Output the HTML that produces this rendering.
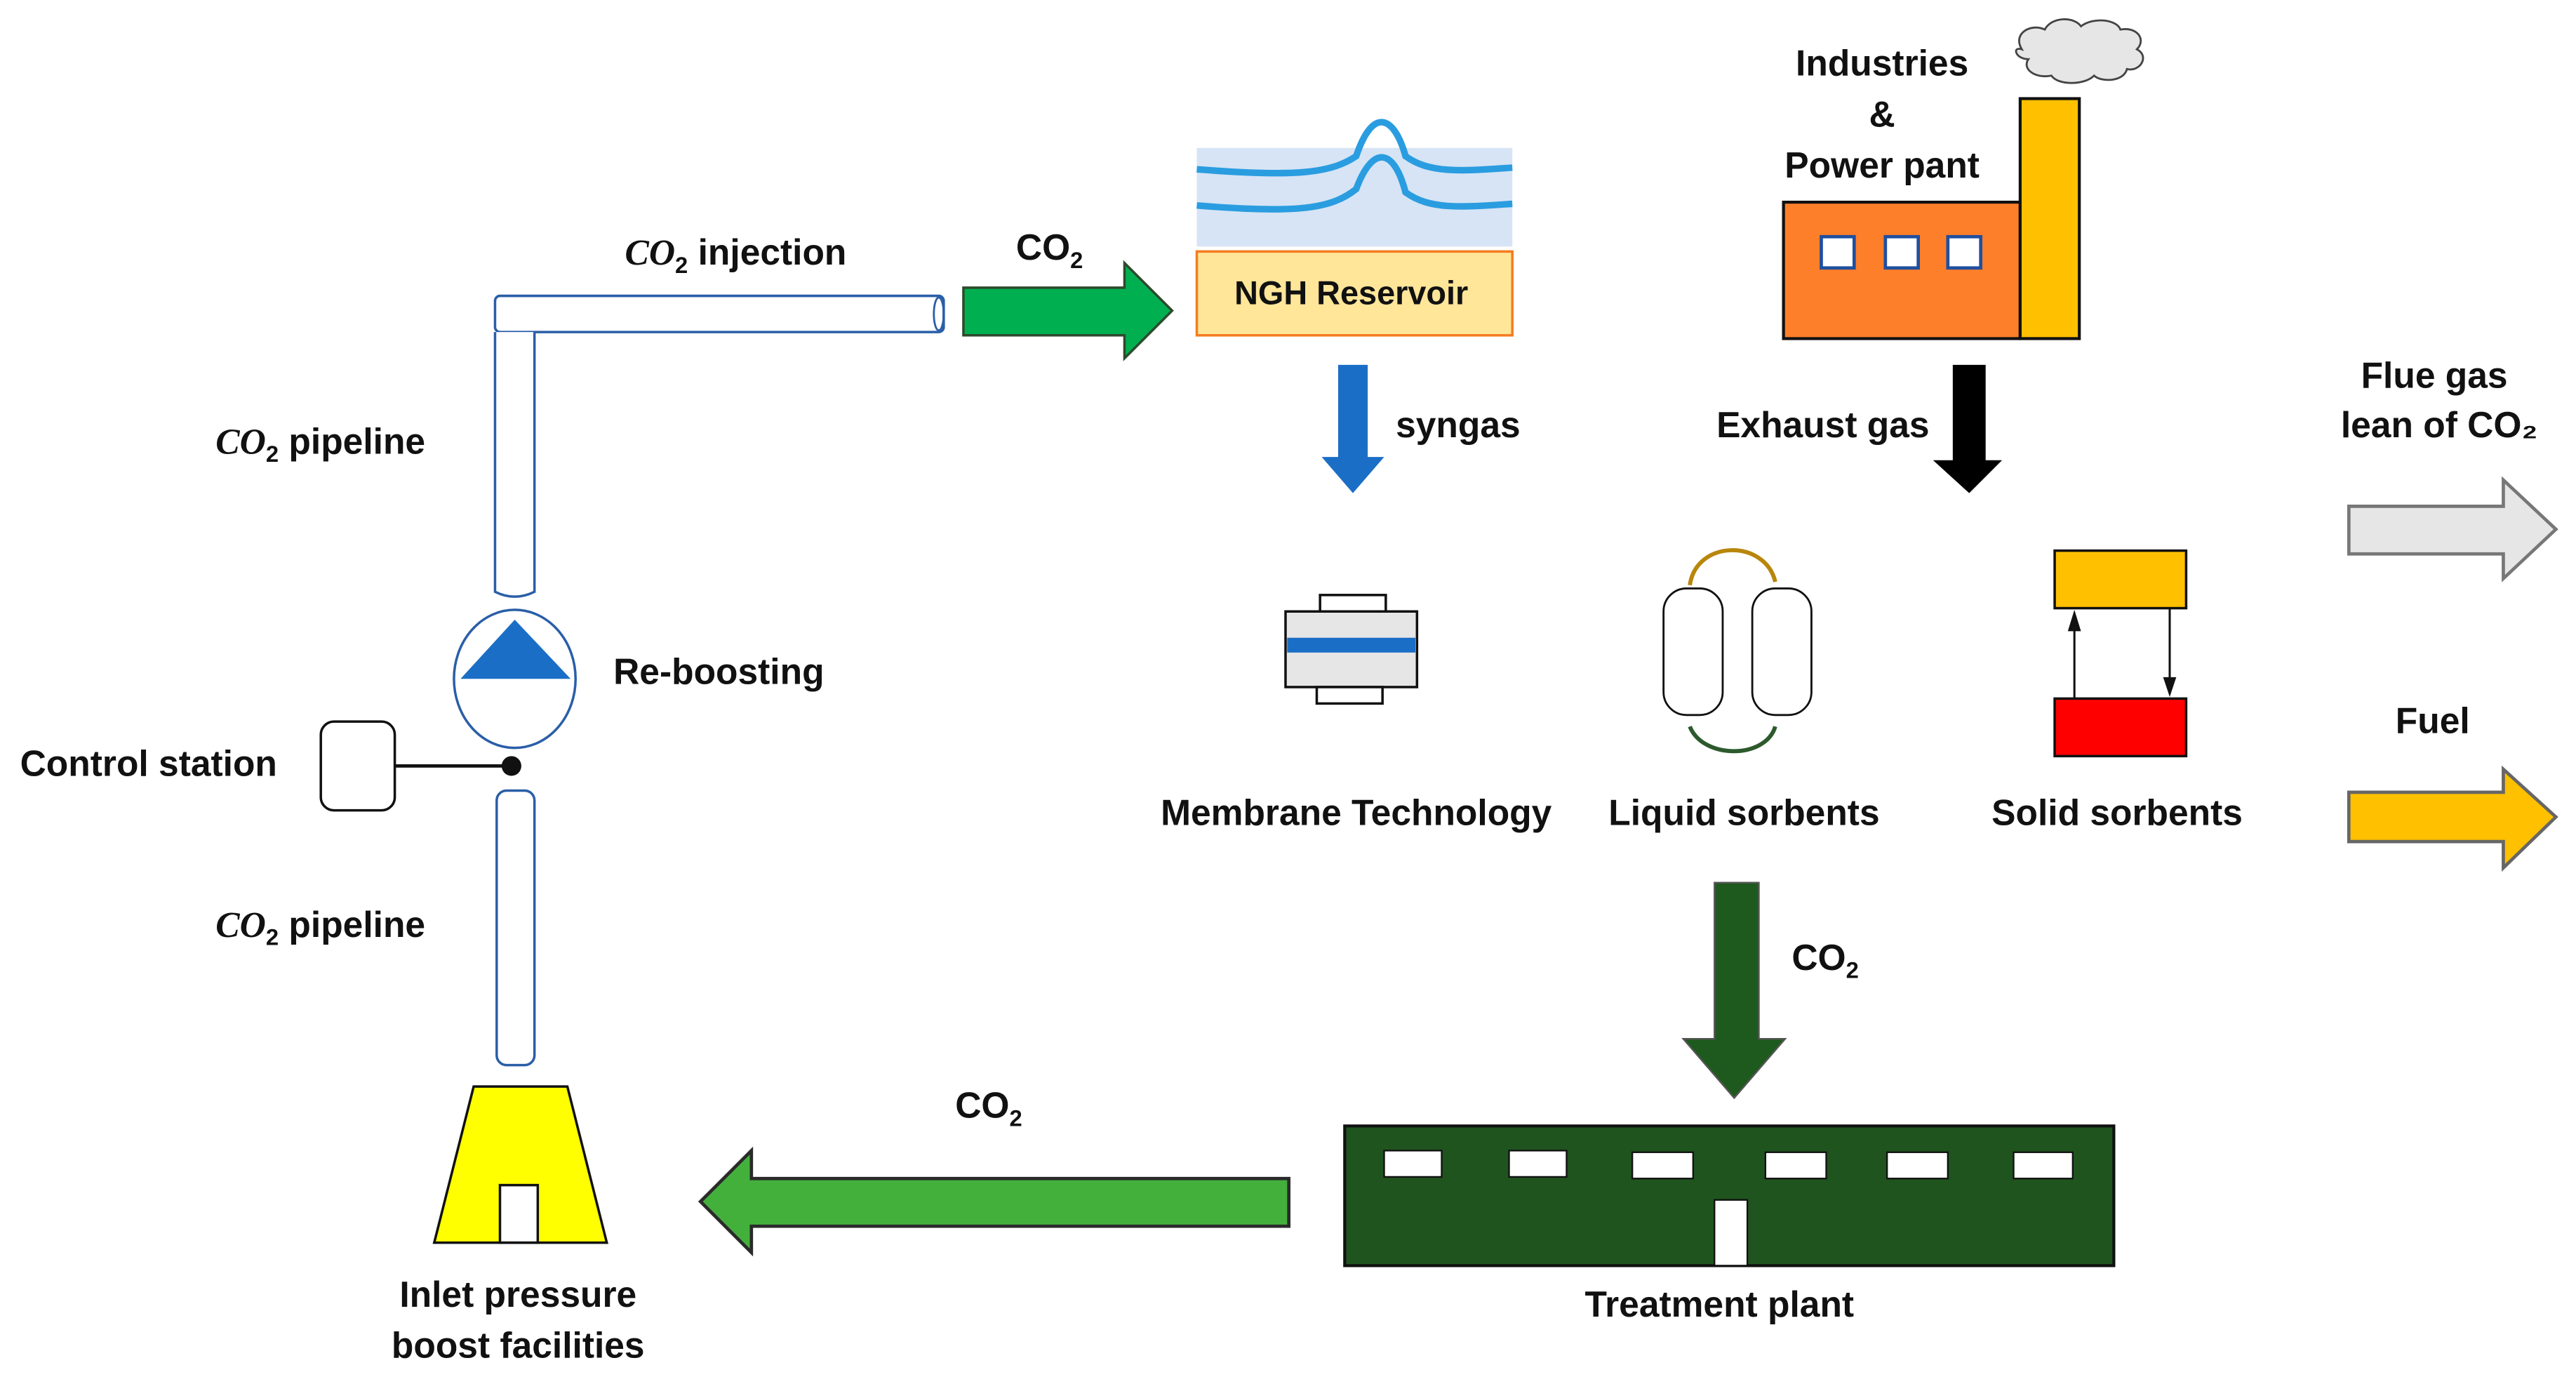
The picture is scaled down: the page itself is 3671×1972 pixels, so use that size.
<!DOCTYPE html>
<html><head><meta charset="utf-8"><style>
html,body{margin:0;padding:0;background:#fff;}
svg{display:block;}
text{font-family:"Liberation Sans Narrow","Liberation Sans",sans-serif;font-weight:bold;font-size:22px;fill:#111;}
</style></head><body>
<svg width="3671" height="1972" viewBox="0 0 1567 842" xmlns="http://www.w3.org/2000/svg">
<rect width="1567" height="842" fill="#fff"/>
<!-- pipes -->
<rect x="301" y="180" width="273" height="22" rx="3" fill="#fff" stroke="#2a5ea8" stroke-width="1.5"/>
<ellipse cx="571" cy="191" rx="3" ry="10" fill="none" stroke="#2a5ea8" stroke-width="1.2"/>
<path d="M301 202 V360 Q313 366 325 360 V202" fill="#fff" stroke="#2a5ea8" stroke-width="1.5"/>
<ellipse cx="313" cy="413" rx="37" ry="42" fill="#fff" stroke="#2a5ea8" stroke-width="1.5"/>
<polygon points="313,377 280,413 347,413" fill="#1b6ec5"/>
<rect x="195" y="439" width="45" height="54" rx="8" fill="#fff" stroke="#111" stroke-width="1.5"/>
<line x1="240" y1="466" x2="311" y2="466" stroke="#111" stroke-width="2"/>
<circle cx="311" cy="466" r="6" fill="#111"/>
<rect x="302" y="481" width="23" height="167" rx="6" fill="#fff" stroke="#2a5ea8" stroke-width="1.5"/>
<!-- inlet facility -->
<polygon points="288,661 345,661 369,756 264,756" fill="#ffff00" stroke="#111" stroke-width="1.5"/>
<rect x="304" y="721" width="23" height="35" fill="#fff" stroke="#111" stroke-width="1.5"/>
<!-- green arrow to reservoir -->
<polygon points="586,175 684,175 684,160 713,189 684,218 684,204 586,204" fill="#00b050" stroke="#2d4a2d" stroke-width="1.5"/>
<!-- reservoir -->
<rect x="728" y="90" width="192" height="60" fill="#d6e4f5"/>
<path d="M728 103 C790 108 810 105 825 95 C835 65 848 70 855 95 C870 106 890 104 920 102" fill="none" stroke="#2a9de0" stroke-width="4"/>
<path d="M728 125 C790 130 810 127 825 115 C835 88 848 90 855 117 C870 128 890 126 920 124" fill="none" stroke="#2a9de0" stroke-width="4"/>
<rect x="728" y="153" width="192" height="51" fill="#ffe699" stroke="#f47c20" stroke-width="1.5"/>
<text x="822" y="185" text-anchor="middle" style="font-size:20px">NGH Reservoir</text>
<!-- syngas arrow -->
<polygon points="814,222 832,222 832,278 842,278 823,300 804,278 814,278" fill="#1b6ec5"/>
<!-- factory -->
<path d="M1230 30 c-6-10 6-16 14-12 c4-8 18-8 22-2 c8-6 22-4 24 2 c10-2 16 6 10 12 c8 4 2 14-6 12 c-2 8-16 8-20 4 c-6 6-22 6-26 0 c-10 2-18-4-14-10 c-8 0-10-8-4-6z" fill="#e6e6e6" stroke="#444" stroke-width="1.2"/>
<rect x="1085" y="123" width="144" height="83" fill="#fe7f2a" stroke="#111" stroke-width="1.8"/>
<rect x="1229" y="60" width="36" height="146" fill="#ffc000" stroke="#111" stroke-width="1.8"/>
<rect x="1108" y="144" width="20" height="19" fill="#fff" stroke="#1f4f9f" stroke-width="2"/>
<rect x="1147" y="144" width="20" height="19" fill="#fff" stroke="#1f4f9f" stroke-width="2"/>
<rect x="1185" y="144" width="20" height="19" fill="#fff" stroke="#1f4f9f" stroke-width="2"/>
<!-- exhaust arrow -->
<polygon points="1188,222 1208,222 1208,280 1218,280 1198,300 1176,280 1188,280" fill="#000"/>
<!-- flue gas arrow -->
<polygon points="1429,308 1523,308 1523,292 1555,322 1523,352 1523,337 1429,337" fill="#e6e6e6" stroke="#777" stroke-width="2"/>
<!-- fuel arrow -->
<polygon points="1429,482 1523,482 1523,468 1555,497 1523,528 1523,512 1429,512" fill="#ffc000" stroke="#666" stroke-width="2"/>
<!-- membrane -->
<rect x="803" y="362" width="40" height="10" fill="#fff" stroke="#111" stroke-width="1.5"/>
<rect x="782" y="372" width="80" height="46" fill="#e6e6e6" stroke="#111" stroke-width="1.5"/>
<rect x="783" y="388" width="78" height="9" fill="#1b6ec5"/>
<rect x="801" y="418" width="40" height="10" fill="#fff" stroke="#111" stroke-width="1.5"/>
<!-- liquid sorbents -->
<rect x="1012" y="358" width="36" height="77" rx="14" fill="#fff" stroke="#111" stroke-width="1.2"/>
<rect x="1066" y="358" width="36" height="77" rx="14" fill="#fff" stroke="#111" stroke-width="1.2"/>
<path d="M1028 356 C1032 328 1074 328 1080 354" fill="none" stroke="#b8860b" stroke-width="2.5"/>
<path d="M1028 442 C1036 462 1074 462 1080 442" fill="none" stroke="#2d5a2d" stroke-width="2.5"/>
<!-- solid sorbents -->
<rect x="1250" y="335" width="80" height="35" fill="#ffc000" stroke="#111" stroke-width="1.5"/>
<rect x="1250" y="425" width="80" height="35" fill="#ff0000" stroke="#111" stroke-width="1.5"/>
<line x1="1262" y1="425" x2="1262" y2="380" stroke="#111" stroke-width="1.3"/>
<polygon points="1262,371 1258,384 1266,384" fill="#111"/>
<line x1="1320" y1="370" x2="1320" y2="416" stroke="#111" stroke-width="1.3"/>
<polygon points="1320,424 1316,412 1324,412" fill="#111"/>
<!-- dark green down arrow -->
<polygon points="1043,537 1070,537 1070,632 1086,632 1055,668 1024,632 1043,632" fill="#1e5a1e" stroke="#555" stroke-width="1"/>
<!-- treatment plant -->
<rect x="818" y="685" width="468" height="85" fill="#1f541f" stroke="#111" stroke-width="1.8"/>
<rect x="842" y="700" width="35" height="16" fill="#fff" stroke="#111" stroke-width="1"/>
<rect x="918" y="700" width="35" height="16" fill="#fff" stroke="#111" stroke-width="1"/>
<rect x="993" y="701" width="37" height="16" fill="#fff" stroke="#111" stroke-width="1"/>
<rect x="1074" y="701" width="37" height="16" fill="#fff" stroke="#111" stroke-width="1"/>
<rect x="1148" y="701" width="37" height="16" fill="#fff" stroke="#111" stroke-width="1"/>
<rect x="1225" y="701" width="36" height="16" fill="#fff" stroke="#111" stroke-width="1"/>
<rect x="1043" y="730" width="20" height="40" fill="#fff" stroke="#111" stroke-width="1"/>
<!-- left green arrow -->
<polygon points="784,717 457,717 457,700 426,731 457,762 457,746 784,746" fill="#44b03c" stroke="#2a2a2a" stroke-width="2"/>
<!-- labels -->
<text x="380" y="161"><tspan font-style="italic" font-family="Liberation Serif">CO</tspan><tspan font-size="14" dy="5">2</tspan><tspan dy="-5"> injection</tspan></text>
<text x="618" y="158">CO<tspan font-size="14" dy="5">2</tspan></text>
<text x="131" y="276"><tspan font-style="italic" font-family="Liberation Serif">CO</tspan><tspan font-size="14" dy="5">2</tspan><tspan dy="-5"> pipeline</tspan></text>
<text x="131" y="570"><tspan font-style="italic" font-family="Liberation Serif">CO</tspan><tspan font-size="14" dy="5">2</tspan><tspan dy="-5"> pipeline</tspan></text>
<text x="373" y="416">Re-boosting</text>
<text x="12" y="472">Control station</text>
<text x="887" y="266" text-anchor="middle">syngas</text>
<text x="1109" y="266" text-anchor="middle">Exhaust gas</text>
<text x="1145" y="46" text-anchor="middle">Industries</text>
<text x="1145" y="77" text-anchor="middle">&amp;</text>
<text x="1145" y="108" text-anchor="middle">Power pant</text>
<text x="1481" y="236" text-anchor="middle">Flue gas</text>
<text x="1484" y="266" text-anchor="middle">lean of CO₂</text>
<text x="1480" y="446" text-anchor="middle">Fuel</text>
<text x="825" y="502" text-anchor="middle">Membrane Technology</text>
<text x="1061" y="502" text-anchor="middle">Liquid sorbents</text>
<text x="1288" y="502" text-anchor="middle">Solid sorbents</text>
<text x="1090" y="590">CO<tspan font-size="14" dy="5">2</tspan></text>
<text x="581" y="680">CO<tspan font-size="14" dy="5">2</tspan></text>
<text x="1046" y="801" text-anchor="middle">Treatment plant</text>
<text x="315" y="795" text-anchor="middle">Inlet pressure</text>
<text x="315" y="826" text-anchor="middle">boost facilities</text>
</svg>
</body></html>
